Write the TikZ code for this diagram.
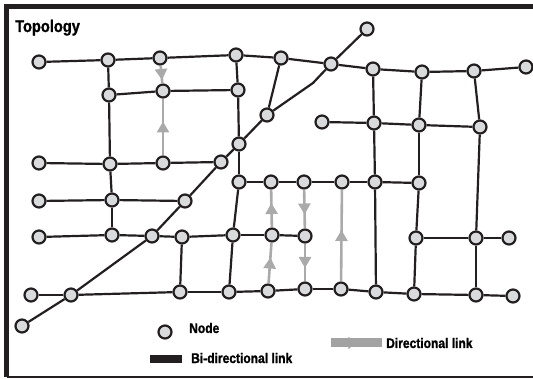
\documentclass[tikz,border=0pt]{standalone}
\usepackage{fontspec}
\setmainfont{Liberation Sans}[FakeStretch=0.86,BoldFeatures={FakeBold=1.2}]
\usetikzlibrary{arrows.meta,decorations.markings}
\definecolor{ink}{HTML}{231F20}
\definecolor{nodegray}{HTML}{D9DADC}
\definecolor{linkgray}{HTML}{AAAAAA}
\tikzset{
  topnode/.style={draw=ink,fill=nodegray,circle,line width=2.2pt,
                  inner sep=0pt,minimum size=13pt},
  bilink/.style={draw=ink,line width=2.2pt},
  dirlink/.style={draw=linkgray,line width=2.6pt,postaction={decorate},
                  decoration={markings,mark=at position 0.5 with
                  {\pgftransformxshift{5.5pt}\arrow{Triangle[length=11pt,width=12pt,color=linkgray]}}}},
  legbar/.style={draw=ink,line width=8pt},
  legdir/.style={draw=linkgray!95!black,line width=9pt,postaction={decorate},
                 decoration={markings,mark=at position 0.48 with
                 {\arrow{Triangle[length=7pt,width=12pt,color=linkgray!95!black]}}}},
  legtext/.style={font=\bfseries\fontsize{14}{16}\selectfont,anchor=base west,inner sep=0pt},
  titletext/.style={font=\bfseries\fontsize{17}{19}\selectfont,anchor=base west,inner sep=0pt}
}

\begin{document}
\begin{tikzpicture}[x=1pt,y=-1pt]
  \useasboundingbox (0,0) rectangle (533,379);
  \draw[ink,line width=4.5pt] (4,6.5) -- (533,6.5);
  \draw[ink,line width=4.5pt] (6.5,4) -- (6.5,377.5);
  \draw[ink,line width=1.5pt] (6.5,377) -- (533,377);
  \node[titletext] (title) at (15,32) {Topology};

  \foreach \nm/\px/\py in {a1/39/62,a2/108/60,a3/160/58,a4/236/55,a5/281/58,
      a6/331/64,a7/373/69,a8/422/72,a9/474/71,a10/526/67,tp/367/29,
      b2/109/95,b3/163/91,b4/238/90,g/267/115,
      h0/322/122,h1/374/123,h2/419/125,h3/480/127,
      c4/239/144,d1/39/163,d2/110/164,d3/163/163,d4/221/162,
      e/239/182,i1/271/182,i2/304/182,i3/342/182,i4/375/182,i5/419/183,
      j1/39/201,j2/112/200,j3/185/201,
      k1/39/237,k2/112/235,k3/152/236,k4/182/237,k5/233/235,k6/272/235,k7/305/236,
      n1/416/238,n2/476/238,n3/509/238,
      l1/31/295,l2/71/295,l3/180/292,l4/229/292,l5/268/291,l6/305/289,
      l7/341/289,l8/376/292,l9/414/294,l10/476/295,l11/513/296,
      m/22/326} {
    \node[topnode] (\nm) at (\px,\py) {};
  }
  \coordinate (bend) at (313,83);

  \foreach \u/\v in {a1/a2,a2/a3,a3/a4,a4/a5,a5/a6,a6/a7,a7/a8,a8/a9,a9/a10,a6/tp,
      a2/b2,b2/b3,b3/b4,a4/b4,b4/c4,c4/e,
      b2/d2,d1/d2,d2/d3,d3/d4,d2/j2,
      j1/j2,j2/j3,j2/k2,
      k1/k2,k2/k3,k3/k4,k4/k5,k5/k6,k6/k7,
      k4/l3,k5/l4,e/k5,
      l1/l2,l2/l3,l3/l4,l4/l5,l5/l6,l6/l7,l7/l8,l8/l9,l9/l10,l10/l11,
      e/i1,i1/i2,i2/i3,i3/i4,i4/i5,
      h0/h1,h1/h2,h2/h3,a7/h1,h1/i4,i4/l8,a8/h2,h2/i5,i5/n1,n1/l9,
      a9/h3,h3/n2,n2/l10,n1/n2,n2/n3,
      m/l2,l2/k3,k3/j3,j3/d4,d4/c4,c4/g,a5/g} {
    \draw[bilink] (\u) -- (\v);
  }
  \draw[bilink] (g) -- (bend) -- (a6);

  \foreach \u/\v in {a3/b3,d3/b3,k6/i1,i2/k7,l5/k6,k7/l6,l7/i3} {
    \draw[dirlink] (\u) -- (\v);
  }

  \node[topnode] (legnode) at (165,332) {};
  \node[legtext] (nodelab) at (189,333) {Node};
  \coordinate (bibarL) at (150,359);
  \coordinate (bibarR) at (182,359);
  \draw[legbar] (bibarL) -- (bibarR);
  \node[legtext] (bilab) at (191,363) {Bi-directional link};
  \coordinate (dirbarL) at (331,343);
  \coordinate (dirbarR) at (382,343);
  \draw[legdir] (dirbarL) -- (dirbarR);
  \node[legtext] (dirlab) at (386,348) {Directional link};
\end{tikzpicture}
\end{document}
